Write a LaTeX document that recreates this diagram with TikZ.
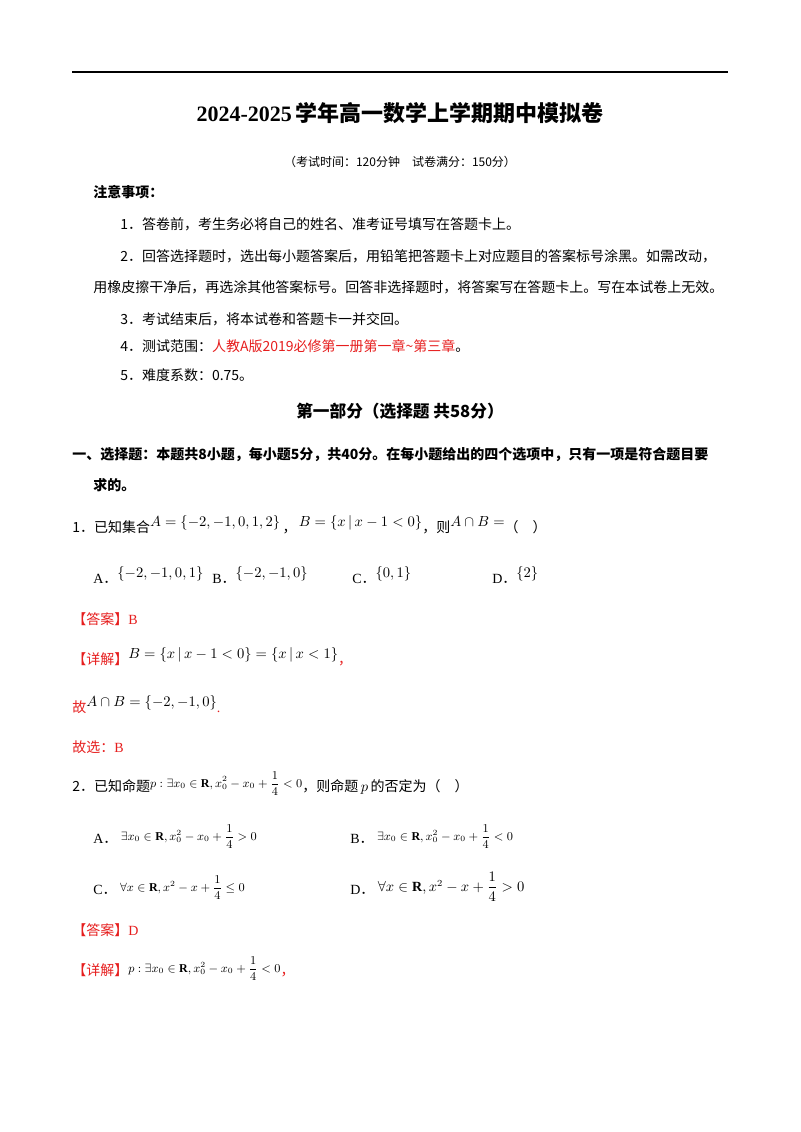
\documentclass[tikz,border=0pt]{standalone}
\usepackage{amsmath}
\usepackage{fontspec}
\setmainfont{Liberation Serif}
\newfontfamily\cjk{Noto Sans CJK SC}
\definecolor{ans}{RGB}{230,30,30}
\newcommand{\up}[1]{\raisebox{4pt}{$#1$}}
\newcommand{\dt}{{\cjk ．}}
\begin{document}
\begin{tikzpicture}[x=0.75pt,y=-0.75pt,
  t/.style={anchor=base west,inner sep=0,font=\fontsize{10.5}{12}\selectfont},
  r/.style={t,text=ans}]
\useasboundingbox (0,0) rectangle (800,1132);
\draw[line width=1pt] (72,72) coordinate (l1) -- (728,72) coordinate (l2);
\node[anchor=base,inner sep=0,font=\fontsize{16.5}{18}\bfseries\selectfont] (title) at (400,121) {2024-2025\,{\cjk 学年高一数学上学期期中模拟卷}};
\node[anchor=base,inner sep=0,font=\fontsize{9}{11}\selectfont] (sub) at (400,166) {\cjk （考试时间：120分钟\quad 试卷满分：150分）};
\node[t] (n0) at (93,197) {\cjk\bfseries 注意事项：};
\node[t] (n1) at (120,229) {\cjk 1．答卷前，考生务必将自己的姓名、准考证号填写在答题卡上。};
\node[t] (n2) at (120,261) {\cjk 2．回答选择题时，选出每小题答案后，用铅笔把答题卡上对应题目的答案标号涂黑。如需改动，};
\node[t] (n2b) at (93,292) {\cjk 用橡皮擦干净后，再选涂其他答案标号。回答非选择题时，将答案写在答题卡上。写在本试卷上无效。};
\node[t] (n3) at (120,324) {\cjk 3．考试结束后，将本试卷和答题卡一并交回。};
\node[t] (n4) at (120,351) {\cjk 4．测试范围：\textcolor{ans}{人教A版2019必修第一册第一章\textasciitilde 第三章}。};
\node[t] (n5) at (120,380) {\cjk 5．难度系数：0.75。};
\node[anchor=base,inner sep=0,font=\fontsize{12.5}{14}\bfseries\selectfont] (part) at (400,417) {\cjk 第一部分（选择题\ 共58分）};
\node[t] (s1) at (72,459) {\cjk\bfseries 一、选择题：本题共8小题，每小题5分，共40分。在每小题给出的四个选项中，只有一项是符合题目要};
\node[t] (s1b) at (93,490) {\cjk\bfseries 求的。};
\node[t] (q1) at (72,532) {{\cjk 1．已知集合}\up{A=\{-2,-1,0,1,2\}}\,{\cjk ，}\,\up{B=\{x\,|\,x-1<0\}}{\cjk ，则}\up{A\cap B=}{\cjk （\quad ）}};
\node[t] (oa) at (93,583) {A\dt\up{\{-2,-1,0,1\}}};
\node[t] (ob) at (212,583) {B\dt\up{\{-2,-1,0\}}};
\node[t] (oc) at (352,583) {C\dt\up{\{0,1\}}};
\node[t] (od) at (492,583) {D\dt\up{\{2\}}};
\node[r] (a1) at (72,624) {{\cjk 【答案】}B};
\node[r] (d1) at (72,664) {{\cjk 【详解】}\textcolor{black}{\up{B=\{x\,|\,x-1<0\}=\{x\,|\,x<1\}}}{\cjk ，}};
\node[r] (g1) at (72,712) {{\cjk 故}\textcolor{black}{\up{A\cap B=\{-2,-1,0\}}}.};
\node[r] (x1) at (72,752) {{\cjk 故选：}B};
\node[t] (q2) at (72,791) {{\cjk 2．已知命题}\raisebox{3pt}{\small$p:\exists x_0\in\mathbf{R},x_0^2-x_0+\dfrac14<0$}{\cjk ，则命题}$\,p\,${\cjk 的否定为（\quad ）}};
\node[t] (qa) at (93,843) {A\dt\ \raisebox{2pt}{\small$\exists x_0\in\mathbf{R},x_0^2-x_0+\dfrac14>0$}};
\node[t] (qb) at (350,843) {B\dt\ \raisebox{2pt}{\small$\exists x_0\in\mathbf{R},x_0^2-x_0+\dfrac14<0$}};
\node[t] (qc) at (93,894) {C\dt\ \raisebox{2pt}{\small$\forall x\in\mathbf{R},x^2-x+\dfrac14\le0$}};
\node[t] (qd) at (350,894) {D\dt\ \raisebox{2pt}{$\forall x\in\mathbf{R},x^2-x+\dfrac14>0$}};
\node[r] (a2) at (72,935) {{\cjk 【答案】}D};
\node[r] (d2) at (72,975) {{\cjk 【详解】}\textcolor{black}{\raisebox{2pt}{\small$p:\exists x_0\in\mathbf{R},x_0^2-x_0+\dfrac14<0$}}{\cjk ，}};
\end{tikzpicture}
\end{document}
